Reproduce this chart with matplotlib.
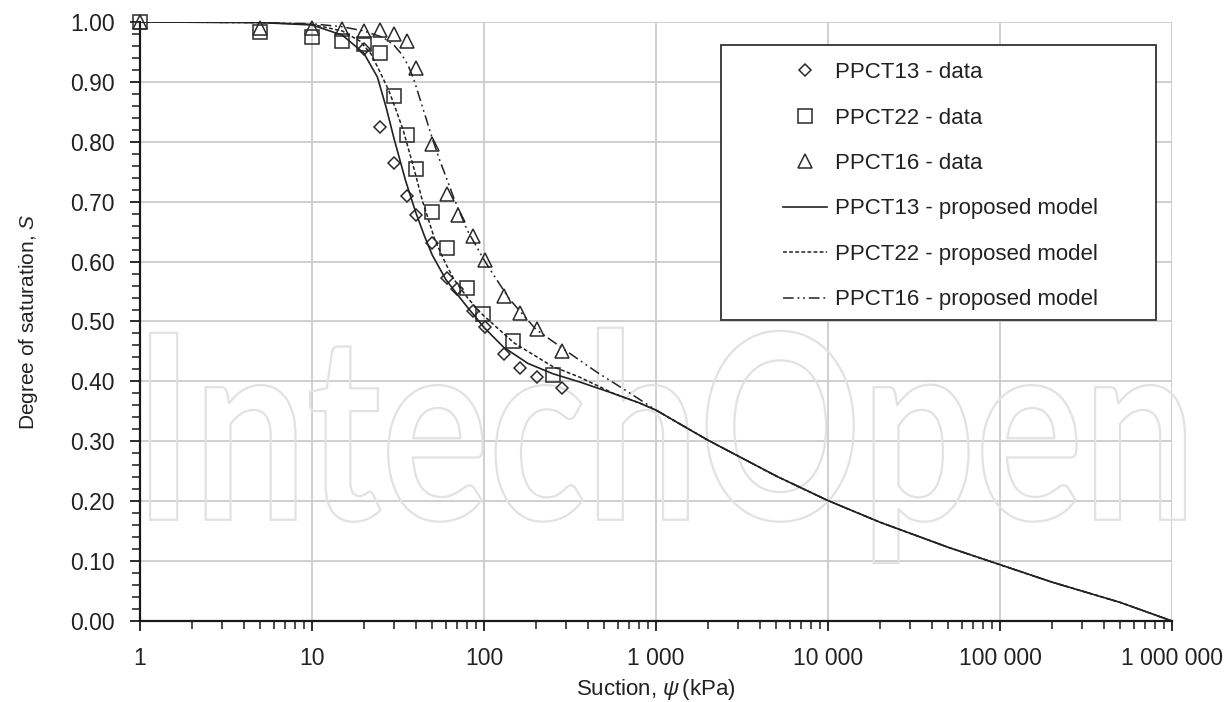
import numpy as np
import matplotlib
matplotlib.use('Agg')
import matplotlib.pyplot as plt
import matplotlib.transforms as mtransforms
from matplotlib.ticker import FixedLocator, LogLocator, MultipleLocator, NullFormatter, FixedFormatter
from matplotlib.textpath import TextPath
from matplotlib.font_manager import FontProperties
from matplotlib.patches import PathPatch, Rectangle

plt.rcParams['font.family'] = ['Liberation Sans', 'DejaVu Sans']
plt.rcParams['mathtext.fontset'] = 'custom'
plt.rcParams['mathtext.rm'] = 'Liberation Sans'
plt.rcParams['mathtext.it'] = 'Liberation Sans:italic'

INK = '#222222'

# measured data (suction kPa, degree of saturation)
d13_x = [20, 25, 30, 35.5, 40, 50, 61, 70, 86, 101, 131, 162, 203, 284]
d13_y = [0.955, 0.824, 0.765, 0.710, 0.678, 0.631, 0.573, 0.554, 0.518, 0.491, 0.446, 0.422, 0.407, 0.389]

d22_x = [1, 5, 10, 15, 20, 25, 30, 35.5, 40, 50, 61, 80, 99, 148, 252]
d22_y = [1.0, 0.983, 0.975, 0.968, 0.963, 0.948, 0.877, 0.811, 0.755, 0.683, 0.623, 0.556, 0.513, 0.467, 0.410]

d16_x = [1, 5, 10, 15, 20, 25, 30, 35.5, 40, 50, 61, 71, 86, 101, 131, 162, 203, 284]
d16_y = [1.0, 0.990, 0.990, 0.989, 0.985, 0.986, 0.980, 0.968, 0.923, 0.796, 0.712, 0.677, 0.642, 0.602, 0.543,
         0.514, 0.487, 0.450]

# model curves
m13_x = [1, 5, 10, 15, 20, 24, 27, 30, 35, 40, 45, 50, 60, 70, 80, 100, 130, 180, 250, 360, 550, 800]
m13_y = [1.0, 0.999, 0.995, 0.978, 0.948, 0.908, 0.857, 0.805, 0.735, 0.683, 0.643, 0.611, 0.570, 0.545, 0.524,
         0.490, 0.457, 0.430, 0.413, 0.399, 0.381, 0.364]

m22_x = [1, 5, 10, 15, 19, 22, 25, 28, 31, 34, 39, 44, 52, 60, 67, 80, 95, 123, 150, 200, 250, 360, 565, 800]
m22_y = [1.0, 0.999, 0.996, 0.985, 0.968, 0.947, 0.915, 0.885, 0.851, 0.818, 0.757, 0.700, 0.635, 0.596, 0.570,
         0.540, 0.515, 0.486, 0.464, 0.442, 0.425, 0.407, 0.380, 0.364]

m16_x = [1, 5, 10, 15, 20, 26, 30, 33, 36, 39, 44, 50, 55, 60, 67, 80, 100, 110, 140, 200, 300, 450, 700]
m16_y = [1.0, 0.999, 0.997, 0.992, 0.985, 0.974, 0.961, 0.947, 0.929, 0.905, 0.857, 0.806, 0.771, 0.742, 0.705,
         0.652, 0.603, 0.584, 0.538, 0.487, 0.451, 0.416, 0.381]

# common tail of all three models
tail_x = [1000, 2000, 5000, 10000, 20000, 50000, 100000, 200000, 500000, 1000000]
tail_y = [0.352, 0.302, 0.242, 0.201, 0.165, 0.123, 0.094, 0.065, 0.031, 0.0]

x_ticks = [1, 10, 100, 1000, 10000, 100000, 1000000]
x_tick_labels = ['1', '10', '100', '1 000', '10 000', '100 000', '1 000 000']

legend_labels = ['PPCT13 - data', 'PPCT22 - data', 'PPCT16 - data',
                 'PPCT13 - proposed model', 'PPCT22 - proposed model', 'PPCT16 - proposed model']

fig = plt.figure(figsize=(12.24, 7.02), dpi=100)
ax = fig.add_axes([0.1144, 0.1154, 0.8431, 0.8533])
ax.set_xscale('log')
ax.set_xlim(1, 1e6)
ax.set_ylim(0, 1.0)

# watermark
fp = FontProperties(family='Lato', weight='bold')
wm = TextPath((0, 0), 'IntechOpen', size=1, prop=fp)
cap = TextPath((0, 0), 'I', size=1, prop=fp).get_extents()
ext = wm.get_extents()
x0, x1, base, top = 0.0097, 1.0126, 0.169, 0.481
sx = (x1 - x0) / ext.width
sy = (top - base) / cap.ymax
tr = mtransforms.Affine2D().scale(sx, sy).translate(x0 - ext.xmin * sx, base) + ax.transAxes
ax.add_patch(PathPatch(wm, transform=tr, facecolor='none', edgecolor='#e2e2e2', lw=1.6, zorder=1.5, clip_on=False))

mk = dict(linestyle='none', mfc='none', mec='#2a2a2a', mew=1.1, zorder=3, clip_on=False)
h1, = ax.plot(d13_x, d13_y, marker='D', ms=6.3, **mk)
h2, = ax.plot(d22_x, d22_y, marker='s', ms=10, **mk)
h3, = ax.plot(d16_x, d16_y, marker='^', ms=9.5, **mk)

h4, = ax.plot(m13_x + tail_x, m13_y + tail_y, color=INK, lw=1.2, zorder=4)
h5, = ax.plot(m22_x + tail_x, m22_y + tail_y, color=INK, lw=1.1, dashes=(2.5, 1.5), zorder=4)
h6, = ax.plot(m16_x + tail_x, m16_y + tail_y, color=INK, lw=1.1, dashes=(7, 2.5, 1.2, 2.5, 1.2, 2.5), zorder=4)

ax.grid(which='major', color='#cccccc', lw=1.3)
ax.set_axisbelow(True)
for s in ['top', 'right']:
    ax.spines[s].set_visible(False)
for s in ['left', 'bottom']:
    ax.spines[s].set_linewidth(1.6)
    ax.spines[s].set_color('#1a1a1a')

ax.xaxis.set_major_locator(FixedLocator(x_ticks))
ax.xaxis.set_major_formatter(FixedFormatter(x_tick_labels))
ax.xaxis.set_minor_locator(LogLocator(base=10, subs=np.arange(2, 10)))
ax.xaxis.set_minor_formatter(NullFormatter())
ax.yaxis.set_major_locator(MultipleLocator(0.1))
ax.yaxis.set_minor_locator(MultipleLocator(0.02))
ax.yaxis.set_major_formatter(lambda v, p: f'{v:.2f}')

ax.tick_params(which='major', direction='out', length=7, width=1.3, color='#1a1a1a', labelsize=16.5,
               labelcolor=INK)
ax.tick_params(which='minor', direction='out', length=6, width=1.1, color='#1a1a1a')
ax.tick_params(axis='x', which='major', pad=12)
ax.tick_params(axis='y', which='major', pad=11)

ax.set_xlabel(r'Suction, $\psi\,$(kPa)', fontsize=16, color=INK, labelpad=5)
ax.set_ylabel(r'Degree of saturation, $S$', fontsize=15, color=INK, labelpad=22)

# legend frame drawn separately
ax.add_patch(Rectangle((0.563, 0.5025), 0.4215, 0.459, transform=ax.transAxes, facecolor='white',
                       edgecolor='#333333', lw=1.3, zorder=4.5, clip_on=False))
leg = ax.legend([h1, h2, h3, h4, h5, h6], legend_labels, loc='upper left', bbox_to_anchor=(0.623, 0.933),
                frameon=False, borderpad=0, borderaxespad=0, handlelength=2.0, handletextpad=0.35,
                labelspacing=1.1, fontsize=16, labelcolor=INK)
leg.set_zorder(5)

fig.savefig('out.png', dpi=100)
